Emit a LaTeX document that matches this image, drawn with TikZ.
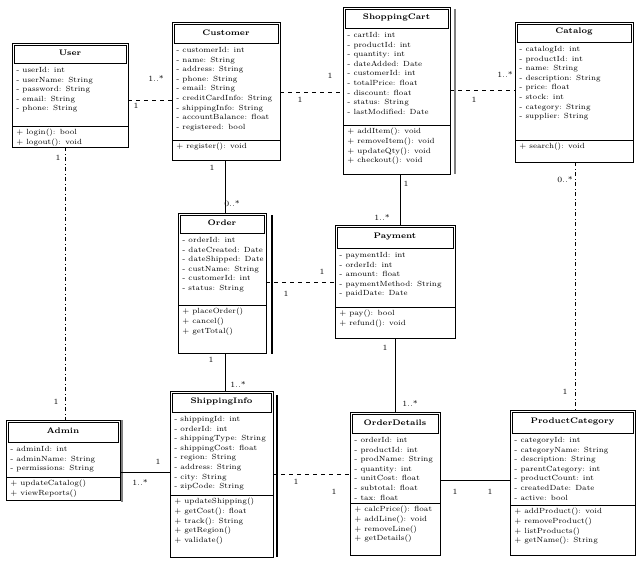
\documentclass[tikz,border=0pt]{standalone}
\usetikzlibrary{fit}
\tikzset{
  frame/.style={draw=black, line width=0.6pt, inner sep=0pt},
  sepline/.style={draw=black, line width=0.5pt},
  txt/.style={font=\fontsize{5.6}{7.2}\selectfont, align=left, inner sep=0pt, anchor=north west},
  ttl/.style={font=\fontsize{6}{7}\selectfont\bfseries, inner sep=0pt},
  mult/.style={font=\fontsize{6}{7}\selectfont, inner sep=1pt},
  assoc/.style={draw=black, line width=0.5pt},
  dassoc/.style={draw=black, line width=0.5pt, dashed},
  ddassoc/.style={draw=black, line width=0.5pt, dash dot},
  shade/.style={draw=gray, line width=2pt}
}
% #1 name #2 x1 #3 y1 #4 x2 #5 y2 #6 title-bottom #7 attr-bottom #8 title #9 attributes
\newcommand\umlclass[9]{%
  \node[frame, fit={(#2,#3)(#4,#5)}] (#1) {};
  \draw[sepline] (#2+2,#3+2) rectangle (#4-2,#6);
  \draw[sepline] (#2,#7) -- (#4,#7);
  \node[ttl] at ({(#2+#4)/2},{(#3+#6)/2}) {#8};
  \node[txt] at (#2+4,#6+4) {#9};
  \coordinate (#1-m) at (#2+4,#7+3);
}
\begin{document}
\begin{tikzpicture}[x=0.75pt,y=-0.75pt]
\useasboundingbox (0,0) rectangle (641,562);
\fill[white] (0,0) rectangle (641,562);

% shadows
\draw[shade] (455,9) -- (455,174);
\draw[shade] (122,420) -- (122,502);
\draw[black,line width=1pt] (272,215) -- (272,354);
\draw[black,line width=0.8pt] (277,395) -- (277,557);

\umlclass{user}{12}{43}{128}{147}{63}{126}{User}{- userId: int\\- userName: String\\- password: String\\- email: String\\- phone: String}
\node[txt] at (user-m) {+ login(): bool\\+ logout(): void};

\umlclass{cust}{172}{22}{280}{160}{43}{140}{Customer}{- customerId: int\\- name: String\\- address: String\\- phone: String\\- email: String\\- creditCardInfo: String\\- shippingInfo: String\\- accountBalance: float\\- registered: bool}
\node[txt] at (cust-m) {+ register(): void};

\umlclass{cart}{343}{7}{450}{174}{28}{125}{ShoppingCart}{- cartId: int\\- productId: int\\- quantity: int\\- dateAdded: Date\\- customerId: int\\- totalPrice: float\\- discount: float\\- status: String\\- lastModified: Date}
\node[txt] at (cart-m) {+ addItem(): void\\+ removeItem(): void\\+ updateQty(): void\\+ checkout(): void};

\umlclass{cat}{515}{22}{633}{162}{42}{140}{Catalog}{- catalogId: int\\- productId: int\\- name: String\\- description: String\\- price: float\\- stock: int\\- category: String\\- supplier: String}
\node[txt] at (cat-m) {+ search(): void};

\umlclass{order}{178}{213}{266}{353}{233}{305}{Order}{- orderId: int\\- dateCreated: Date\\- dateShipped: Date\\- custName: String\\- customerId: int\\- status: String}
\node[txt] at (order-m) {+ placeOrder()\\+ cancel()\\+ getTotal()};

\umlclass{pay}{335}{225}{455}{338}{248}{307}{Payment}{- paymentId: int\\- orderId: int\\- amount: float\\- paymentMethod: String\\- paidDate: Date}
\node[txt] at (pay-m) {+ pay(): bool\\+ refund(): void};

\umlclass{admin}{6}{420}{120}{500}{442}{477}{Admin}{- adminId: int\\- adminName: String\\- permissions: String}
\node[txt] at (admin-m) {+ updateCatalog()\\+ viewReports()};

\umlclass{ship}{170}{391}{273}{557}{412}{495}{ShippingInfo}{- shippingId: int\\- orderId: int\\- shippingType: String\\- shippingCost: float\\- region: String\\- address: String\\- city: String\\- zipCode: String}
\node[txt] at (ship-m) {+ updateShipping()\\+ getCost(): float\\+ track(): String\\+ getRegion()\\+ validate()};

\umlclass{odet}{350}{412}{440}{555}{433}{503}{OrderDetails}{- orderId: int\\- productId: int\\- prodName: String\\- quantity: int\\- unitCost: float\\- subtotal: float\\- tax: float}
\node[txt] at (odet-m) {+ calcPrice(): float\\+ addLine(): void\\+ removeLine()\\+ getDetails()};

\umlclass{pcat}{510}{410}{635}{555}{433}{505}{ProductCategory}{- categoryId: int\\- categoryName: String\\- description: String\\- parentCategory: int\\- productCount: int\\- createdDate: Date\\- active: bool}
\node[txt] at (pcat-m) {+ addProduct(): void\\+ removeProduct()\\+ listProducts()\\+ getName(): String};

% connectors
\draw[dassoc] (user.east |- 0,100) -- (cust.west |- 0,100);
\node[mult] at (136,106) {1};
\node[mult] at (156,78) {1..*};

\draw[dassoc] (cust.east |- 0,92) -- (cart.west |- 0,92);
\node[mult] at (300,100) {1};
\node[mult] at (330,76) {1};

\draw[dassoc] (cart.east |- 0,90) -- (cat.west |- 0,90);
\node[mult] at (474,100) {1};
\node[mult] at (505,74) {1..*};

\draw[ddassoc] (user.south -| 65,0) -- (admin.north -| 65,0);
\node[mult] at (58,158) {1};
\node[mult] at (56,402) {1};

\draw[assoc] (cust.south -| 225,0) -- (order.north -| 225,0);
\node[mult] at (212,168) {1};
\node[mult] at (232,204) {0..*};

\draw[dassoc] (order.east |- 0,282) -- (pay.west |- 0,282);
\node[mult] at (286,294) {1};
\node[mult] at (322,272) {1};

\draw[assoc] (cart.south -| 400,0) -- (pay.north -| 400,0);
\node[mult] at (406,184) {1};
\node[mult] at (382,217) {1..*};

\draw[ddassoc] (cat.south -| 575,0) -- (pcat.north -| 575,0);
\node[mult] at (565,180) {0..*};
\node[mult] at (565,392) {1};

\draw[assoc] (order.south -| 225,0) -- (ship.north -| 225,0);
\node[mult] at (211,360) {1};
\node[mult] at (238,384) {1..*};

\draw[assoc] (pay.south -| 395,0) -- (odet.north -| 395,0);
\node[mult] at (385,348) {1};
\node[mult] at (410,403) {1..*};

\draw[assoc] (admin.east |- 0,472) -- (ship.west |- 0,472);
\node[mult] at (140,482) {1..*};
\node[mult] at (158,462) {1};

\draw[dassoc] (ship.east |- 0,474) -- (odet.west |- 0,474);
\node[mult] at (296,482) {1};
\node[mult] at (334,492) {1};

\draw[assoc] (odet.east |- 0,480) -- (pcat.west |- 0,480);
\node[mult] at (455,492) {1};
\node[mult] at (490,492) {1};
\end{tikzpicture}
\end{document}
